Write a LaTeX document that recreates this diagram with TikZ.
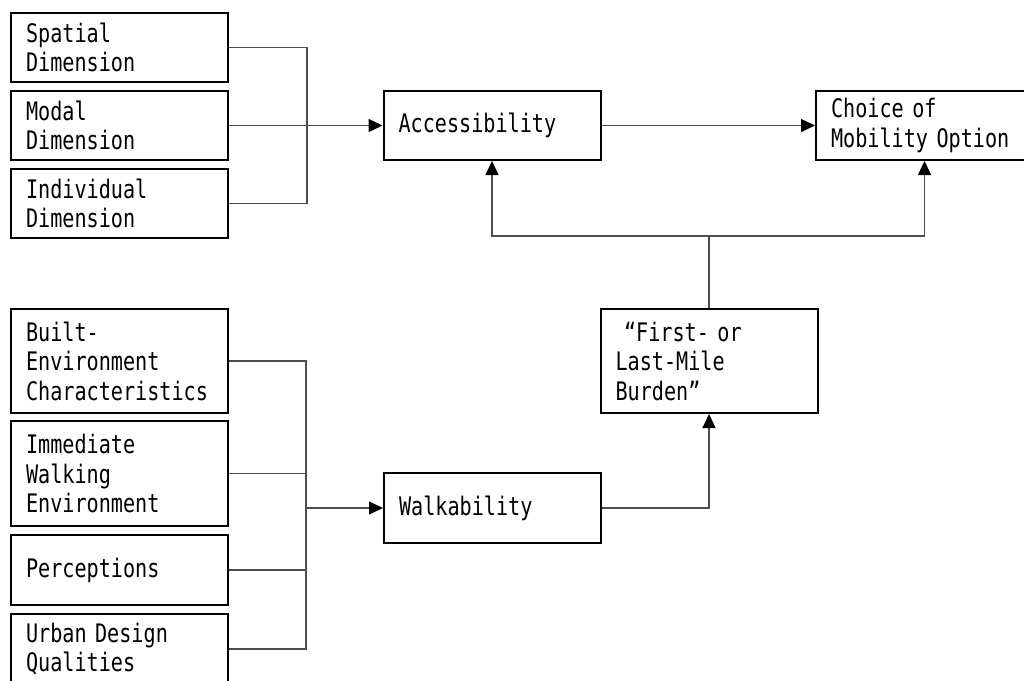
\documentclass[tikz,border=0pt]{standalone}
\usepackage{fontspec}
\newfontfamily\boxfont[FakeStretch=0.79]{DejaVu Sans Mono}
\usetikzlibrary{arrows.meta}
\tikzset{
  box/.style={draw=black, line width=2pt, fill=white, inner xsep=15pt, inner ysep=0pt,
    text width=187pt, align=left, font=\boxfont\fontsize{25.5}{29.5}\selectfont},
  conn/.style={draw=black!70, line width=1.2pt},
  arr/.style={conn, -{Triangle[length=14pt,width=13pt,color=black]}}
}
\begin{document}
\begin{tikzpicture}[x=1pt,y=-1pt]
\useasboundingbox (0,0) rectangle (1024,680);
\fill[white] (0,0) rectangle (1024,680);
\clip (0,0) rectangle (1024,680);
% upper group
\node[box, minimum height=69pt] (sp)  at (119.5,47.5)  {Spatial\\Dimension};
\node[box, minimum height=69pt] (mod) at (119.5,125.5) {Modal\\Dimension};
\node[box, minimum height=69pt] (ind) at (119.5,203.5) {Individual\\Dimension};
\node[box, minimum height=69pt] (acc) at (492,125.5) {Accessibility};
\node[box, minimum height=69pt] (cho) at (924.5,125.5) {Choice of\\Mobility Option};
% lower group
\node[box, minimum height=104pt] (bui) at (119.5,361) {Built-\\Environment\\Characteristics};
\node[box, minimum height=105pt] (imm) at (119.5,473.5) {Immediate\\Walking\\Environment};
\node[box, minimum height=70pt] (per) at (119.5,570) {Perceptions};
\node[box, minimum height=70pt] (urb) at (119.5,649) {Urban Design\\Qualities};
\node[box, minimum height=70pt] (wal) at (492.5,508) {Walkability};
\node[box, minimum height=104pt] (fir) at (709,361) {~“First- or\\Last-Mile\\Burden”};
% junctions
\coordinate (j1) at (307,125.5);
\coordinate (j2) at (306,508);
\coordinate (j3) at (709,236);
% connectors upper
\draw[conn] (sp.east) -| (j1);
\draw[conn] (ind.east) -| (j1);
\draw[conn] (mod.east) -- (j1);
\draw[arr] (j1) -- (acc.west);
\draw[arr] (acc.east) -- (cho.west);
% connectors lower
\draw[conn] (bui.east) -| (j2);
\draw[conn] (urb.east) -| (j2);
\draw[conn] (imm.east) -- (imm.east -| j2);
\draw[conn] (per.east) -- (per.east -| j2);
\draw[arr] (j2) -- (wal.west);
\draw[arr] (wal.east) -| (fir.south);
\draw[conn] (fir.north) -- (j3);
\draw[arr] (j3) -| (acc.south);
\draw[arr] (j3) -| (cho.south);
\end{tikzpicture}
\end{document}
